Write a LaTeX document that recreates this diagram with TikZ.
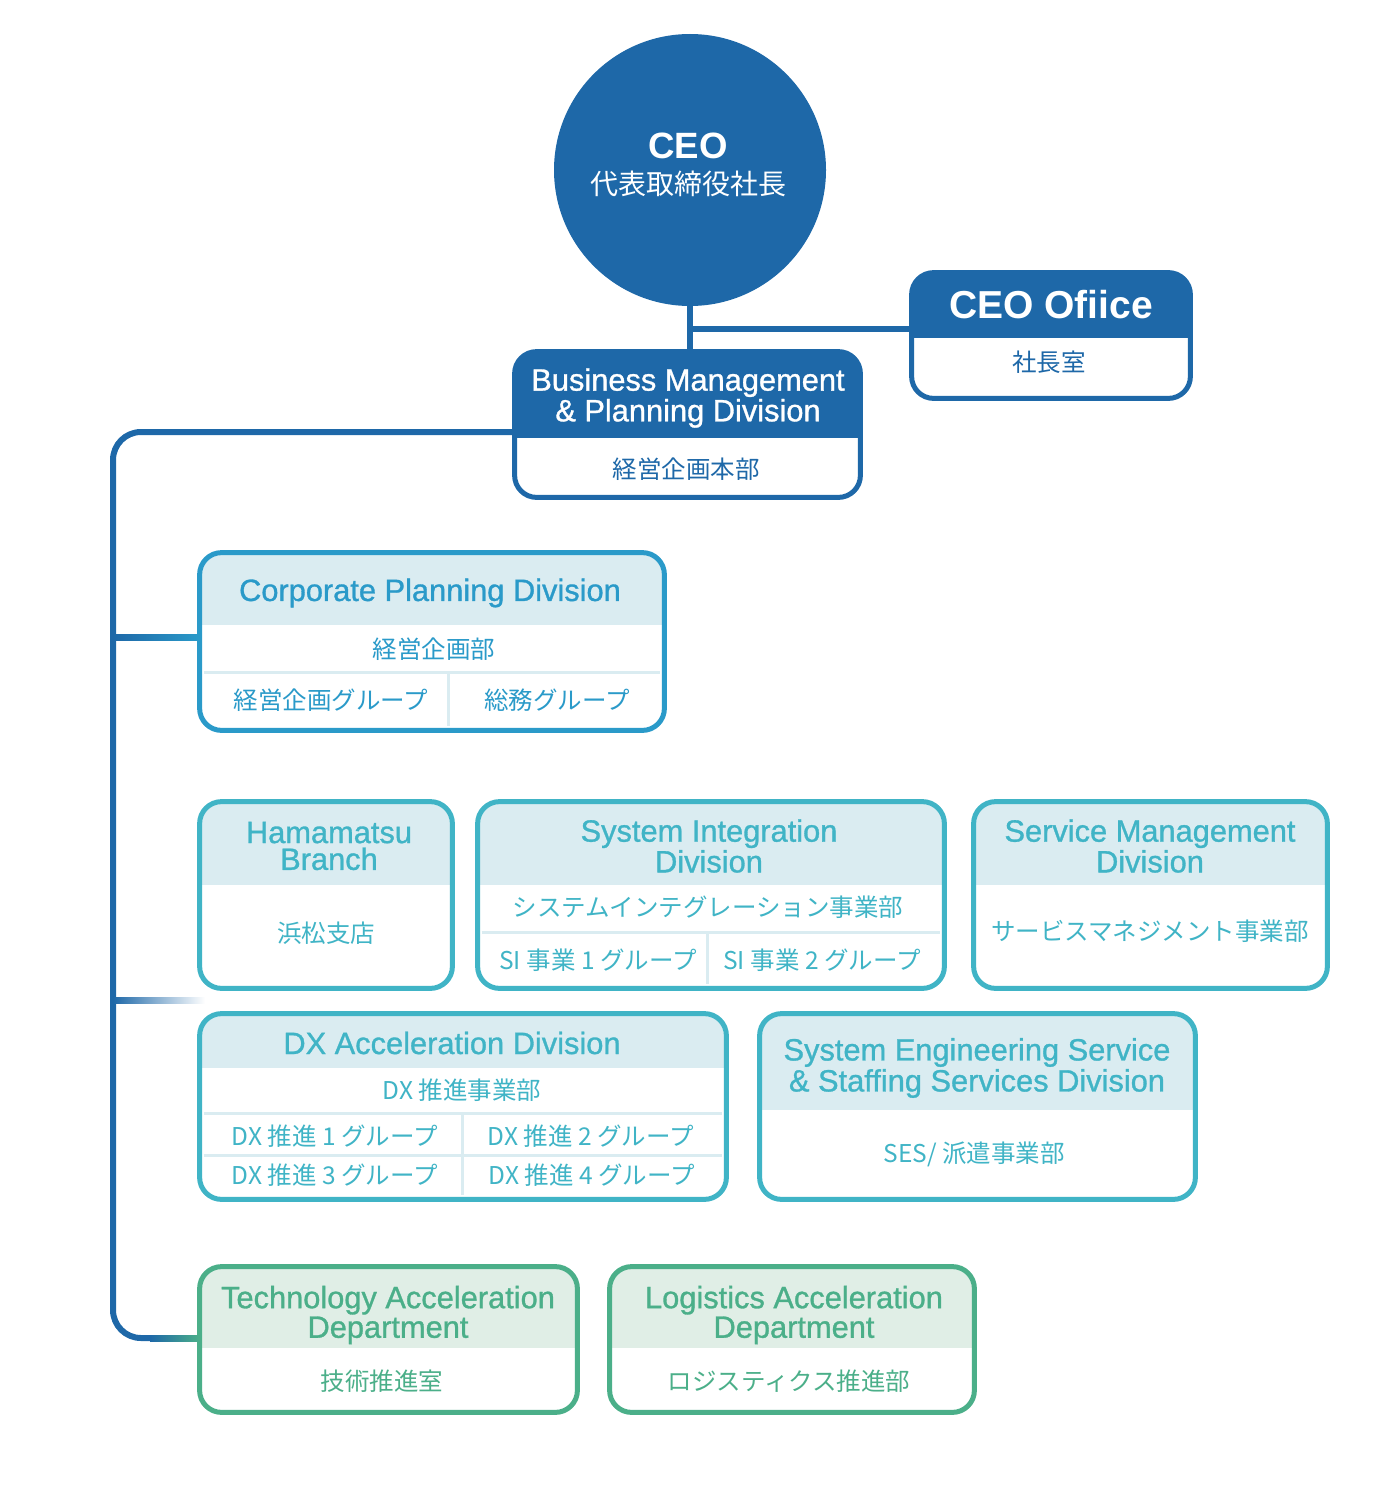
\documentclass[tikz,border=0pt]{standalone}
\usepackage{fontspec}
\setmainfont{Liberation Sans}
\newfontfamily\jpfont{Noto Sans CJK JP}
\newfontfamily\hdfont[FakeBold=1]{Liberation Sans}
\usepackage{xcolor}
\usetikzlibrary{positioning, fit, calc}

\definecolor{dkblue}{HTML}{1E68A8}
\definecolor{cpblue}{HTML}{2A9AC9}
\definecolor{tealc}{HTML}{40B4C6}
\definecolor{grnc}{HTML}{4BAF89}
\definecolor{paleb}{HTML}{DAECF1}
\definecolor{paleg}{HTML}{E0EEE6}

\begin{document}
\begin{tikzpicture}[
  x=0.5pt, y=-0.5pt,
  link/.style  = {line width=3pt, dkblue},
  hd/.style    = {font=\hdfont\fontsize{15.4}{13.4}\selectfont, align=center, inner sep=0},
  jp/.style    = {font=\jpfont\fontsize{12.25}{14}\selectfont, inner sep=0},
  rule/.style  = {line width=1.5pt, paleb, shorten <=2pt, shorten >=2pt},
]
\useasboundingbox (0,0) rectangle (1390,1493);

\node[circle, fill=dkblue, minimum size=136pt, inner sep=0] (ceo) at (690,170) {};
\node[font=\bfseries\fontsize{18.3}{20}\selectfont, text=white, inner sep=0] (ceo-en) at (688,146) {CEO};
\node[jp, font=\jpfont\fontsize{14}{16}\selectfont, text=white] (ceo-jp) at (688,184) {代表取締役社長};

% boxes: name / corners / header bottom / border / header fill
\foreach \n/\xa/\ya/\xb/\yb/\hy/\bc/\hc in {
  ceooff/912/273/1190/398/338/dkblue/dkblue,
  bmp/515/352/860/497/438/dkblue/dkblue,
  cpd/200/553/664/730/625/cpblue/paleb,
  ham/200/802/452/988/885/tealc/paleb,
  sid/478/802/944/988/885/tealc/paleb,
  smd/974/802/1327/988/885/tealc/paleb,
  dxa/200/1014/726/1199/1068/tealc/paleb,
  ses/760/1014/1195/1199/1110/tealc/paleb,
  tad/200/1267/577/1412/1348/grnc/paleg,
  lad/610/1267/974/1412/1348/grnc/paleg}
{
  \node[fit={(\xa,\ya) (\xb,\yb)}, inner sep=0, fill=white, rounded corners=11pt] (\n) {};
  \begin{scope}
    \clip[rounded corners=11pt] (\n.north west) rectangle (\n.south east);
    \fill[\hc] (\n.north west) rectangle (\xb,\hy);
  \end{scope}
  \draw[\bc, line width=2.5pt, rounded corners=11pt] (\n.north west) rectangle (\n.south east);
}

% inner rules
\draw[rule] (cpd.west |- 0,672) -- (cpd.east |- 0,672);
\draw[rule, shorten <=0pt] (448,672) -- (448,730);
\draw[rule] (sid.west |- 0,932) -- (sid.east |- 0,932);
\draw[rule, shorten <=0pt] (707,932) -- (707,988);
\draw[rule] (dxa.west |- 0,1113) -- (dxa.east |- 0,1113);
\draw[rule] (dxa.west |- 0,1155) -- (dxa.east |- 0,1155);
\draw[rule, shorten <=0pt] (462,1113) -- (462,1199);

% connectors
\draw[link] (ceo.south) -- (ceo.south |- bmp.north);
\coordinate (ceojoin) at ($(ceo.south)!0.5!(ceo.south |- bmp.north)$);
\draw[link] (ceojoin) -- (ceojoin -| ceooff.west);

\coordinate (tk-top) at (bmp.west |- 0,432);
\coordinate (tk-bot) at (113,1338);
\draw[link, rounded corners=14pt] (tk-top) -| (tk-bot) -- ++(37,0);
\shade[left color=dkblue, right color=cpblue] (113,634) rectangle (cpd.west |- 0,640);
\shade[left color=dkblue, right color=white] (113,997) rectangle (205,1003);
\shade[left color=dkblue, right color=grnc] (150,1335) rectangle (tad.west |- 0,1341);

% texts
\node[font=\bfseries\fontsize{19.5}{22}\selectfont, text=white, inner sep=0] (ceooff-en) at (1051,305) {CEO Ofiice};
\node[jp, text=dkblue] (ceooff-jp) at (1049,362) {社長室};

\node[hd, text=white] (bmp-en) at (688,398) {Business Management\\\& Planning Division};
\node[jp, text=dkblue] (bmp-jp) at (686,469) {経営企画本部};

\node[hd, text=cpblue] (cpd-en) at (430,593) {Corporate Planning Division};
\node[jp, text=cpblue] (cpd-jp) at (434,649) {経営企画部};
\node[jp, text=cpblue] (cpd-g1) at (331,700) {経営企画グループ};
\node[jp, text=cpblue] (cpd-g2) at (557,700) {総務グループ};

\node[hd, text=tealc] (ham-en) at (329,846) {Hamamatsu\\Branch};
\node[jp, text=tealc] (ham-jp) at (326,933) {浜松支店};

\node[hd, text=tealc] (sid-en) at (709,846) {System Integration\\Division};
\node[jp, text=tealc] (sid-jp) at (708,907) {システムインテグレーション事業部};
\node[jp, text=tealc] (sid-g1) at (598,960) {SI 事業 1 グループ};
\node[jp, text=tealc] (sid-g2) at (822,960) {SI 事業 2 グループ};

\node[hd, text=tealc] (smd-en) at (1150,846) {Service Management\\Division};
\node[jp, text=tealc] (smd-jp) at (1150,931) {サービスマネジメント事業部};

\node[hd, text=tealc] (dxa-en) at (452,1043) {DX Acceleration Division};
\node[jp, text=tealc] (dxa-jp) at (462,1090) {DX 推進事業部};
\node[jp, text=tealc] (dxa-g1) at (335,1136) {DX 推進 1 グループ};
\node[jp, text=tealc] (dxa-g2) at (591,1136) {DX 推進 2 グループ};
\node[jp, text=tealc] (dxa-g3) at (335,1175) {DX 推進 3 グループ};
\node[jp, text=tealc] (dxa-g4) at (592,1175) {DX 推進 4 グループ};

\node[hd, font=\hdfont\fontsize{15.4}{15.5}\selectfont, text=tealc] (ses-en) at (977,1068) {System Engineering Service\\\& Staffing Services Division};
\node[jp, text=tealc] (ses-jp) at (974,1154) {SES/ 派遣事業部};

\node[hd, text=grnc] (tad-en) at (388,1315) {Technology Acceleration\\Department};
\node[jp, text=grnc] (tad-jp) at (382,1381) {技術推進室};

\node[hd, text=grnc] (lad-en) at (794,1315) {Logistics Acceleration\\Department};
\node[jp, text=grnc] (lad-jp) at (789,1381) {ロジスティクス推進部};

\end{tikzpicture}
\end{document}
